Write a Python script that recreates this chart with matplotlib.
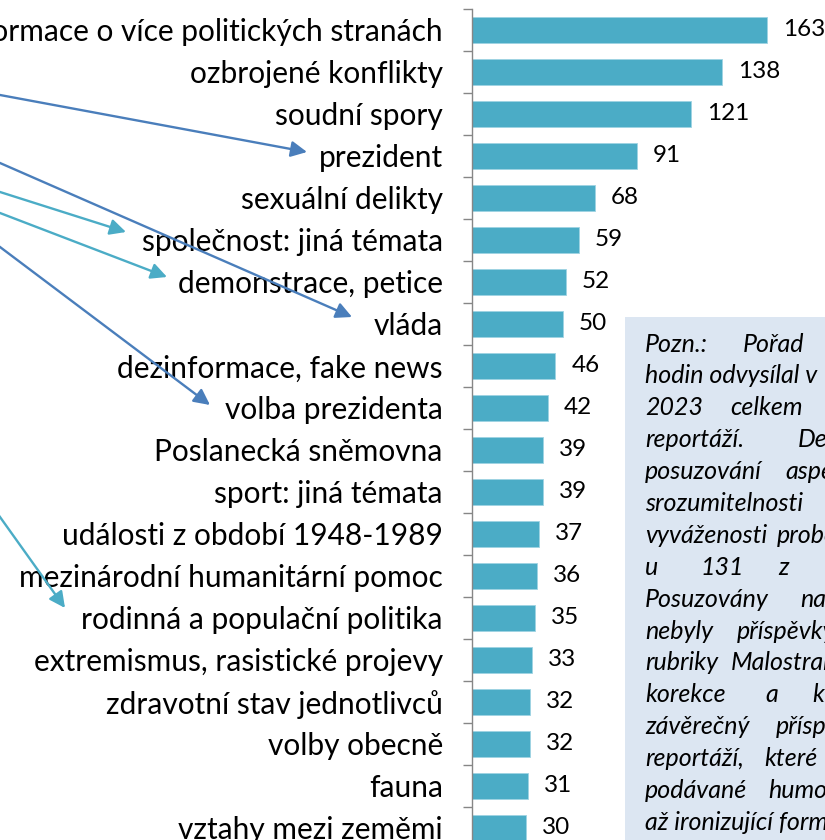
import matplotlib
matplotlib.use("Agg")
import matplotlib.pyplot as plt
from matplotlib.patches import Rectangle

plt.rcParams['font.family'] = ['Lato', 'DejaVu Sans']

# data (top to bottom)
topics = ["informace o více politických stranách", "ozbrojené konflikty", "soudní spory",
          "prezident", "sexuální delikty", "společnost: jiná témata", "demonstrace, petice",
          "vláda", "dezinformace, fake news", "volba prezidenta", "Poslanecká sněmovna",
          "sport: jiná témata", "události z období 1948-1989", "mezinárodní humanitární pomoc",
          "rodinná a populační politika", "extremismus, rasistické projevy",
          "zdravotní stav jednotlivců", "volby obecně", "fauna", "vztahy mezi zeměmi"]
counts = [163, 138, 121, 91, 68, 59, 52, 50, 46, 42, 39, 39, 37, 36, 35, 33, 32, 32, 31, 30]

# note box lines (justified text, cropped at the right edge): (word, x pixel)
note_lines = [
    [("Pozn.:", 645), ("Pořad", 743)],
    [("hodin odvysílal v", 645)],
    [("2023", 645), ("celkem", 730)],
    [("reportáží.", 645), ("Detailní", 798)],
    [("posuzování", 645), ("aspektů", 785)],
    [("srozumitelnosti", 645)],
    [("vyváženosti", 645), ("proběhlo", 777)],
    [("u", 645), ("131", 700), ("z", 778)],
    [("Posuzovány", 645), ("na", 800)],
    [("nebyly", 645), ("příspěvky", 737)],
    [("rubriky", 645), ("Malostranské", 731)],
    [("korekce", 645), ("a", 765), ("k", 812)],
    [("závěrečný", 645), ("příspěvek", 776)],
    [("reportáží,", 645), ("které", 764)],
    [("podávané", 645), ("humorné", 768)],
    [("až ironizující formou", 645)],
]

W, H = 825, 840
BLUE = "#4A7EBB"
TEAL = "#4BACC6"

fig = plt.figure(figsize=(W / 100, H / 100), dpi=100)
ax = fig.add_axes([472 / W, 1 - (9 + 840) / H, (W - 472) / W, 840 / H])

y = list(range(len(topics)))
ax.barh(y, counts, height=0.64, color=TEAL, edgecolor="#9fd3e2", linewidth=0.6, zorder=2)
for yi, c in zip(y, counts):
    ax.annotate(str(c), (c, yi), xytext=(11.5, 0), textcoords="offset points",
                va="center", ha="left", fontsize=17.5, color="#000000")

ax.set_xlim(0, (W - 472) / 1.81)
ax.set_ylim(len(topics) - 0.5, -0.5)
ax.set_yticks(y)
ax.set_yticklabels(topics, fontsize=21.5)
ax.set_yticks([i - 0.5 for i in range(len(topics) + 1)], minor=True)
ax.tick_params(axis="y", which="major", length=0, pad=21)
ax.tick_params(axis="y", which="minor", length=6.5, width=1, color="#868686")
ax.set_xticks([])
for s in ["top", "right", "bottom"]:
    ax.spines[s].set_visible(False)
ax.spines["left"].set_color("#868686")
ax.spines["left"].set_linewidth(1)

# note box (cropped at right/bottom)
fig.patches.append(Rectangle((625 / W, -0.05), 1, 1 - 317 / H + 0.05, transform=fig.transFigure,
                             facecolor="#DCE6F2", edgecolor="none", zorder=0))
for i, line in enumerate(note_lines):
    ty = 344 + i * 31.9
    for word, tx in line:
        fig.text(tx / W, 1 - ty / H, word, fontsize=18, style="italic", va="center", ha="left")

# arrows coming from outside the crop (figure pixel coords, y downward -> converted)
arrows = [((0, 95), (307, 152), BLUE),
          ((0, 163), (352, 317), BLUE),
          ((0, 192), (126, 232), TEAL),
          ((0, 213), (167, 277), TEAL),
          ((0, 247), (210, 405), BLUE),
          ((0, 517), (65, 608), TEAL)]
for (x0, y0), (x1, y1), col in arrows:
    dx, dy = x1 - x0, y1 - y0
    sx, sy = x0 - 0.3 * dx, y0 - 0.3 * dy
    ax.annotate("", xy=(x1, H - y1), xytext=(sx, H - sy),
                xycoords="figure pixels", textcoords="figure pixels",
                arrowprops=dict(arrowstyle="-|>", color=col, lw=1.7,
                                mutation_scale=24, shrinkA=0, shrinkB=0),
                annotation_clip=False, zorder=10)

fig.savefig("out.png", dpi=100)
